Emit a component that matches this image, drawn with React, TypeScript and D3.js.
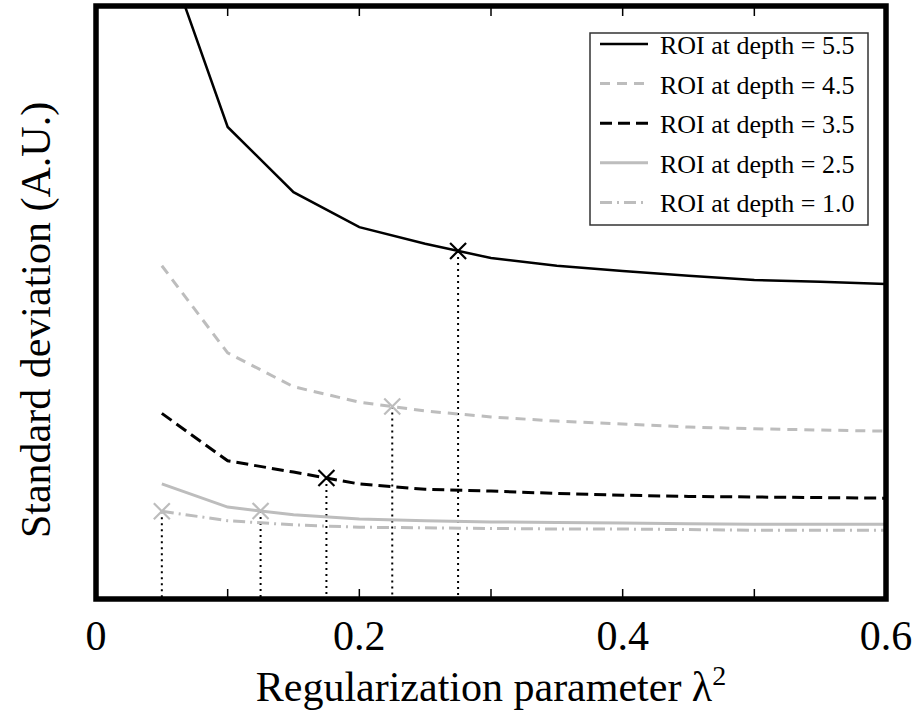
import React from "react";
import * as d3 from "d3";

// regularization parameter values (x)
const lambdas = [0.05, 0.1, 0.15, 0.2, 0.25, 0.3, 0.35, 0.4, 0.45, 0.5, 0.55, 0.6];

// standard deviation (A.U.) per ROI depth
const depth55 = [111.0, 79.6, 68.6, 62.7, 59.9, 57.5, 56.2, 55.3, 54.5, 53.8, 53.5, 53.1];
const depth45 = [56.2, 41.5, 35.8, 33.2, 31.7, 30.7, 30.0, 29.5, 29.0, 28.7, 28.5, 28.3];
const depth35 = [31.3, 23.3, 21.4, 19.4, 18.5, 18.2, 17.8, 17.5, 17.3, 17.2, 17.1, 17.0];
const depth25 = [19.4, 15.5, 14.2, 13.5, 13.2, 13.0, 12.9, 12.8, 12.7, 12.6, 12.6, 12.6];
const depth10 = [14.8, 13.2, 12.5, 12.1, 12.0, 11.9, 11.8, 11.8, 11.7, 11.6, 11.6, 11.6];

// chosen lambda for each curve (marked with x)
const chosen = [0.275, 0.225, 0.175, 0.125, 0.05];

const legendLabels = [
  "ROI at depth = 5.5",
  "ROI at depth = 4.5",
  "ROI at depth = 3.5",
  "ROI at depth = 2.5",
  "ROI at depth = 1.0",
];

const xTicks = [0, 0.2, 0.4, 0.6];

const series = [
  { values: depth55, color: "#000", dash: "", width: 2.5 },
  { values: depth45, color: "#bdbdbd", dash: "10,7", width: 3 },
  { values: depth35, color: "#000", dash: "12,6", width: 3 },
  { values: depth25, color: "#bdbdbd", dash: "", width: 3 },
  { values: depth10, color: "#bdbdbd", dash: "12,5,2,5", width: 3 },
];

const txt = { fontFamily: "Liberation Serif" };

export default function App() {
  const left = 96, right = 886, top = 6, bottom = 599;
  const x = d3.scaleLinear().domain([0, 0.6]).range([left, right]);
  const y = d3.scaleLinear().domain([0, 100]).range([bottom, top]);

  const line = d3
    .line<number>()
    .x((_, i) => x(lambdas[i]))
    .y((d) => y(d));

  // value of a curve at an arbitrary lambda (linear between samples)
  const interp = (vals: number[], lx: number) => {
    const i = Math.max(0, Math.min(lambdas.length - 2, d3.bisectRight(lambdas, lx) - 1));
    const t = (lx - lambdas[i]) / (lambdas[i + 1] - lambdas[i]);
    return vals[i] + t * (vals[i + 1] - vals[i]);
  };

  const minorTicks = d3.range(1, 6).map((d) => d / 10);

  return (
    <svg
      width={916}
      height={719}
      style={{ position: "absolute", left: 0, top: 0, background: "#fff" }}
    >
      <defs>
        <clipPath id="plot">
          <rect x={left} y={top} width={right - left} height={bottom - top} />
        </clipPath>
      </defs>

      {/* dotted drops from the chosen points */}
      {series.map((s, k) => {
        const lx = chosen[k];
        return (
          <line
            key={"drop" + k}
            x1={x(lx)}
            x2={x(lx)}
            y1={y(interp(s.values, lx))}
            y2={bottom}
            stroke="#000"
            strokeWidth={2}
            strokeDasharray="2,4"
          />
        );
      })}

      <g clipPath="url(#plot)">
        {series.map((s, k) => (
          <path
            key={"s" + k}
            d={line(s.values) || ""}
            fill="none"
            stroke={s.color}
            strokeWidth={s.width}
            strokeDasharray={s.dash}
          />
        ))}
      </g>

      {/* x markers */}
      {series.map((s, k) => {
        const cx = x(chosen[k]);
        const cy = y(interp(s.values, chosen[k]));
        const r = 8;
        return (
          <path
            key={"m" + k}
            d={`M${cx - r},${cy - r}L${cx + r},${cy + r}M${cx - r},${cy + r}L${cx + r},${cy - r}`}
            stroke={s.color}
            strokeWidth={2.2}
          />
        );
      })}

      {/* inward ticks */}
      {minorTicks.map((t) => (
        <g key={"t" + t}>
          <line x1={x(t)} x2={x(t)} y1={top} y2={top + 10} stroke="#000" strokeWidth={1.5} />
          <line x1={x(t)} x2={x(t)} y1={bottom} y2={bottom - 10} stroke="#000" strokeWidth={1.5} />
        </g>
      ))}

      {/* frame */}
      <rect
        x={left}
        y={top}
        width={right - left}
        height={bottom - top}
        fill="none"
        stroke="#000"
        strokeWidth={5.5}
      />

      {/* tick labels */}
      {xTicks.map((t) => (
        <text key={"l" + t} x={x(t)} y={650} fontSize={42} textAnchor="middle" fill="#000" style={txt}>
          {t === 0 ? "0" : t.toFixed(1)}
        </text>
      ))}

      {/* axis titles */}
      <text x={491} y={701} fontSize={42} textAnchor="middle" fill="#000" style={txt}>
        Regularization parameter λ<tspan dy={-16} fontSize={28}>2</tspan>
      </text>
      <text
        transform="translate(50,320) rotate(-90)"
        fontSize={42}
        textAnchor="middle"
        fill="#000"
        style={txt}
      >
        Standard deviation (A.U.)
      </text>

      {/* legend */}
      <rect x={590} y={33} width={278} height={192} fill="#fff" stroke="#333" strokeWidth={1.5} />
      {legendLabels.map((lab, k) => {
        const ly = 44 + k * 39.6;
        const s = series[k];
        return (
          <g key={"lg" + k}>
            <line
              x1={600}
              x2={648}
              y1={ly}
              y2={ly}
              stroke={s.color}
              strokeWidth={s.width}
              strokeDasharray={s.dash}
            />
            <text x={660} y={ly + 10} fontSize={26} fill="#000" style={txt}>
              {lab}
            </text>
          </g>
        );
      })}
    </svg>
  );
}
